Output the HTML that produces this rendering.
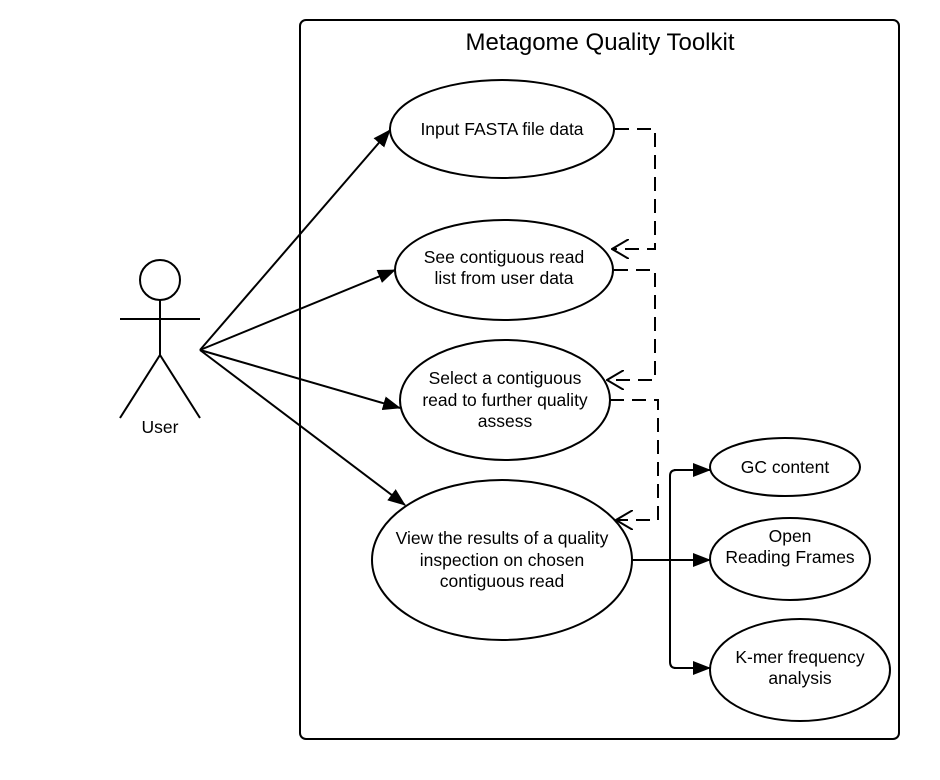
<!DOCTYPE html>
<html><head><style>body{margin:0;background:#fff}svg{display:block}</style></head>
<body>
<svg width="940" height="780" xmlns="http://www.w3.org/2000/svg" font-family="Liberation Sans, sans-serif">
<defs>
<marker id="a" markerWidth="18" markerHeight="14" refX="17" refY="7" orient="auto" markerUnits="userSpaceOnUse"><path d="M0,0 L18,7 L0,14 Z" fill="#000"/></marker>
<marker id="o" markerWidth="18" markerHeight="20" refX="17" refY="10" orient="auto" markerUnits="userSpaceOnUse"><path d="M0,0 L17,10 L0,20" fill="none" stroke="#000" stroke-width="2"/></marker>
</defs>
<rect x="300" y="20" width="599" height="719" rx="6" fill="none" stroke="#000" stroke-width="2"/>
<text x="600" y="50" font-size="24" text-anchor="middle">Metagome Quality Toolkit</text>
<g fill="none" stroke="#000" stroke-width="2">
<circle cx="160" cy="280" r="20"/>
<line x1="160" y1="300" x2="160" y2="355"/>
<line x1="120" y1="319" x2="200" y2="319"/>
<polyline points="120,418 160,355 200,418"/>
<ellipse cx="502" cy="129" rx="112" ry="49"/>
<ellipse cx="504" cy="270" rx="109" ry="50"/>
<ellipse cx="505" cy="400" rx="105" ry="60"/>
<ellipse cx="502" cy="560" rx="130" ry="80"/>
<ellipse cx="785" cy="467" rx="75" ry="29"/>
<ellipse cx="790" cy="559" rx="80" ry="41"/>
<ellipse cx="800" cy="670" rx="90" ry="51"/>
<line x1="200" y1="350" x2="390" y2="130" marker-end="url(#a)"/>
<line x1="200" y1="350" x2="395" y2="270" marker-end="url(#a)"/>
<line x1="200" y1="350" x2="400" y2="408" marker-end="url(#a)"/>
<line x1="200" y1="350" x2="405" y2="505" marker-end="url(#a)"/>
<line x1="632" y1="560" x2="670" y2="560"/>
<path d="M710,470 H676 Q670,470 670,476 V662 Q670,668 676,668"/>
<line x1="674" y1="470" x2="710" y2="470" marker-end="url(#a)"/>
<line x1="670" y1="560" x2="710" y2="560" marker-end="url(#a)"/>
<line x1="674" y1="668" x2="710" y2="668" marker-end="url(#a)"/>
<g stroke-dasharray="14,8">
<polyline points="615,129 655,129 655,249 612,249" marker-end="url(#o)"/>
<polyline points="614,270 655,270 655,380 607,380" marker-end="url(#o)"/>
<polyline points="610,400 658,400 658,520 616,520" marker-end="url(#o)"/>
</g>
</g>
<g font-size="17.5" text-anchor="middle" fill="#000">
<text x="160" y="433">User</text>
<text x="502" y="135">Input FASTA file data</text>
<text x="504" y="263">See contiguous read</text>
<text x="504" y="284">list from user data</text>
<text x="505" y="384">Select a contiguous</text>
<text x="505" y="406">read to further quality</text>
<text x="505" y="427">assess</text>
<text x="502" y="544">View the results of a quality</text>
<text x="502" y="566">inspection on chosen</text>
<text x="502" y="587">contiguous read</text>
<text x="785" y="473">GC content</text>
<text x="790" y="542">Open</text>
<text x="790" y="563">Reading Frames</text>
<text x="800" y="663">K-mer frequency</text>
<text x="800" y="684">analysis</text>
</g>
</svg>
</body></html>
